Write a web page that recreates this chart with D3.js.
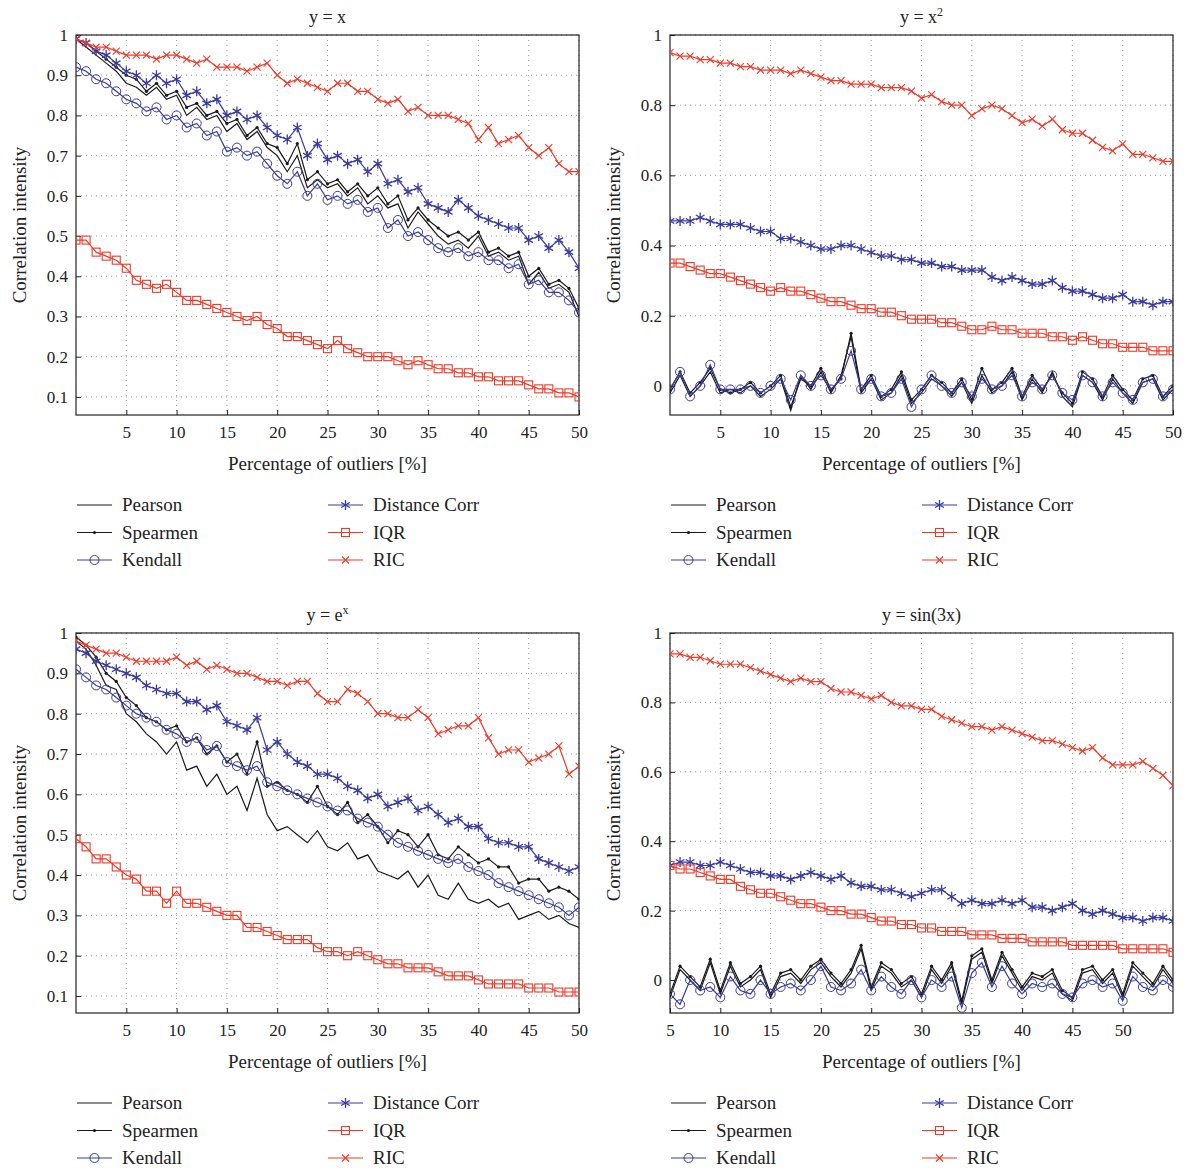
<!DOCTYPE html>
<html><head><meta charset="utf-8">
<script src="https://cdn.jsdelivr.net/npm/d3@7"></script>
<style>body{margin:0;background:#fff}text{font-family:"Liberation Serif",serif;fill:#222}</style>
</head><body><svg width="1188" height="1168"></svg>
<script>
// panel 1: y = x   (x = 0..50)
const xA = d3.range(0, 51);
const p1Pearson = [0.99,0.97,0.95,0.93,0.91,0.88,0.87,0.85,0.87,0.84,0.85,0.80,0.82,0.79,0.80,0.76,0.78,0.74,0.76,0.72,0.70,0.66,0.70,0.62,0.64,0.62,0.63,0.60,0.62,0.58,0.60,0.57,0.58,0.52,0.56,0.53,0.50,0.48,0.49,0.47,0.50,0.45,0.46,0.44,0.45,0.38,0.41,0.37,0.38,0.36,0.30];
const p1Spearman = [0.99,0.98,0.96,0.94,0.92,0.90,0.89,0.86,0.88,0.85,0.86,0.82,0.83,0.80,0.81,0.78,0.79,0.75,0.77,0.73,0.72,0.68,0.73,0.64,0.66,0.63,0.64,0.61,0.63,0.60,0.62,0.58,0.60,0.54,0.57,0.54,0.52,0.50,0.51,0.49,0.51,0.46,0.47,0.45,0.46,0.40,0.42,0.38,0.39,0.37,0.32];
const p1Kendall = [0.92,0.91,0.89,0.88,0.86,0.84,0.83,0.81,0.82,0.79,0.80,0.77,0.78,0.75,0.76,0.71,0.72,0.70,0.71,0.68,0.65,0.63,0.66,0.60,0.63,0.59,0.60,0.58,0.59,0.56,0.57,0.52,0.54,0.50,0.51,0.49,0.47,0.46,0.47,0.45,0.46,0.44,0.44,0.42,0.43,0.38,0.39,0.36,0.36,0.34,0.31];
const p1Dcor = [0.99,0.98,0.96,0.95,0.93,0.91,0.90,0.88,0.90,0.88,0.89,0.85,0.86,0.83,0.84,0.80,0.81,0.79,0.80,0.77,0.75,0.74,0.77,0.70,0.73,0.69,0.70,0.68,0.69,0.66,0.68,0.63,0.64,0.61,0.62,0.58,0.57,0.56,0.59,0.57,0.55,0.54,0.53,0.52,0.52,0.49,0.50,0.47,0.49,0.46,0.42];
const p1Iqr = [0.49,0.49,0.46,0.45,0.44,0.42,0.39,0.38,0.37,0.38,0.36,0.34,0.34,0.33,0.32,0.31,0.30,0.29,0.30,0.28,0.27,0.25,0.25,0.24,0.23,0.22,0.24,0.22,0.21,0.20,0.20,0.20,0.19,0.18,0.19,0.18,0.17,0.17,0.16,0.16,0.15,0.15,0.14,0.14,0.14,0.13,0.12,0.12,0.11,0.11,0.10];
const p1Ric = [0.99,0.98,0.97,0.97,0.96,0.95,0.95,0.95,0.94,0.95,0.95,0.94,0.93,0.94,0.92,0.92,0.92,0.91,0.92,0.93,0.90,0.88,0.89,0.88,0.87,0.86,0.88,0.88,0.86,0.86,0.84,0.83,0.84,0.81,0.82,0.80,0.80,0.80,0.79,0.78,0.74,0.77,0.73,0.74,0.75,0.72,0.70,0.72,0.68,0.66,0.66];

// panel 2: y = x^2
const p2Pearson = [-0.02,0.03,-0.03,0.00,0.04,-0.02,-0.01,-0.02,0.00,-0.03,-0.01,0.02,-0.07,0.03,-0.01,0.04,-0.02,0.03,0.14,-0.02,0.02,-0.04,-0.02,0.03,-0.05,-0.02,0.02,0.00,-0.03,0.01,-0.05,0.03,-0.02,0.00,0.04,-0.04,0.02,-0.02,0.04,-0.03,-0.06,0.03,0.01,-0.04,0.02,-0.02,-0.05,0.01,0.02,-0.04,-0.01];
const p2Spearman = [-0.01,0.04,-0.02,0.01,0.05,-0.01,-0.02,-0.01,0.01,-0.02,0.00,0.03,-0.06,0.02,0.00,0.05,-0.01,0.02,0.15,-0.01,0.03,-0.03,-0.01,0.04,-0.04,-0.01,0.03,0.01,-0.02,0.02,-0.04,0.05,-0.01,0.01,0.05,-0.03,0.03,-0.01,0.03,-0.02,-0.05,0.04,0.02,-0.03,0.03,-0.01,-0.04,0.02,0.03,-0.03,0.00];
const p2Kendall = [-0.01,0.04,-0.03,0.00,0.06,-0.01,-0.01,-0.01,0.00,-0.02,0.00,0.02,-0.04,0.03,0.00,0.03,-0.01,0.02,0.10,-0.01,0.02,-0.03,-0.02,0.02,-0.06,-0.01,0.03,0.00,-0.02,0.01,-0.03,0.02,-0.01,0.00,0.03,-0.03,0.01,-0.01,0.03,-0.02,-0.04,0.03,0.01,-0.03,0.01,-0.02,-0.04,0.01,0.02,-0.03,-0.01];
const p2Dcor = [0.47,0.47,0.47,0.48,0.47,0.46,0.46,0.46,0.45,0.44,0.44,0.42,0.42,0.41,0.40,0.39,0.39,0.40,0.40,0.39,0.38,0.37,0.37,0.36,0.36,0.35,0.35,0.34,0.34,0.33,0.33,0.33,0.31,0.30,0.31,0.30,0.29,0.29,0.30,0.28,0.27,0.27,0.26,0.25,0.25,0.26,0.24,0.24,0.23,0.24,0.24];
const p2Iqr = [0.35,0.35,0.34,0.33,0.32,0.32,0.31,0.30,0.29,0.28,0.27,0.28,0.27,0.27,0.26,0.25,0.24,0.24,0.23,0.22,0.22,0.21,0.21,0.20,0.19,0.19,0.19,0.18,0.18,0.17,0.16,0.16,0.17,0.16,0.16,0.15,0.15,0.15,0.14,0.14,0.13,0.14,0.13,0.12,0.12,0.11,0.11,0.11,0.10,0.10,0.10];
const p2Ric = [0.95,0.94,0.94,0.93,0.93,0.92,0.92,0.91,0.91,0.90,0.90,0.90,0.89,0.90,0.89,0.88,0.87,0.87,0.86,0.86,0.86,0.85,0.85,0.85,0.84,0.82,0.83,0.81,0.80,0.80,0.77,0.79,0.80,0.79,0.77,0.75,0.76,0.74,0.76,0.73,0.72,0.72,0.70,0.68,0.67,0.69,0.66,0.66,0.65,0.64,0.64];

// panel 3: y = e^x
const p3Pearson = [0.98,0.96,0.92,0.87,0.86,0.80,0.78,0.75,0.73,0.70,0.73,0.66,0.67,0.62,0.65,0.60,0.62,0.56,0.64,0.55,0.51,0.52,0.50,0.48,0.51,0.47,0.46,0.48,0.44,0.45,0.41,0.40,0.39,0.41,0.37,0.40,0.35,0.34,0.38,0.34,0.33,0.34,0.32,0.33,0.29,0.30,0.31,0.29,0.30,0.28,0.27];
const p3Spearman = [0.99,0.97,0.94,0.90,0.88,0.84,0.82,0.79,0.78,0.76,0.77,0.73,0.74,0.70,0.72,0.68,0.70,0.65,0.73,0.62,0.63,0.61,0.60,0.58,0.62,0.57,0.55,0.58,0.53,0.55,0.52,0.48,0.51,0.50,0.47,0.50,0.45,0.44,0.47,0.45,0.43,0.44,0.42,0.42,0.38,0.39,0.39,0.36,0.37,0.36,0.34];
const p3Kendall = [0.91,0.89,0.87,0.86,0.84,0.82,0.80,0.79,0.78,0.76,0.75,0.73,0.74,0.71,0.72,0.68,0.67,0.66,0.67,0.63,0.62,0.61,0.60,0.59,0.58,0.57,0.56,0.56,0.54,0.53,0.52,0.50,0.48,0.47,0.46,0.45,0.44,0.43,0.44,0.42,0.41,0.40,0.38,0.37,0.36,0.35,0.34,0.33,0.32,0.30,0.32];
const p3Dcor = [0.96,0.95,0.93,0.92,0.91,0.90,0.89,0.87,0.86,0.85,0.85,0.83,0.83,0.81,0.82,0.78,0.77,0.76,0.79,0.71,0.73,0.70,0.68,0.67,0.65,0.65,0.64,0.62,0.61,0.59,0.60,0.57,0.58,0.59,0.56,0.57,0.55,0.53,0.54,0.52,0.52,0.49,0.48,0.48,0.47,0.47,0.44,0.43,0.42,0.41,0.42];
const p3Iqr = [0.49,0.47,0.44,0.44,0.42,0.40,0.39,0.36,0.36,0.33,0.36,0.33,0.33,0.32,0.31,0.30,0.30,0.27,0.27,0.26,0.25,0.24,0.24,0.24,0.22,0.21,0.21,0.20,0.21,0.20,0.19,0.18,0.18,0.17,0.17,0.17,0.16,0.15,0.15,0.15,0.14,0.13,0.13,0.13,0.13,0.12,0.12,0.12,0.11,0.11,0.11];
const p3Ric = [0.98,0.97,0.96,0.95,0.95,0.94,0.93,0.93,0.93,0.93,0.94,0.92,0.93,0.91,0.92,0.91,0.90,0.90,0.89,0.88,0.88,0.87,0.88,0.88,0.85,0.83,0.83,0.86,0.85,0.83,0.80,0.80,0.79,0.79,0.81,0.79,0.75,0.76,0.77,0.77,0.79,0.74,0.70,0.71,0.71,0.68,0.69,0.70,0.72,0.65,0.67];

// panel 4: y = sin(3x)   (x = 5..55)
const xB = d3.range(5, 56);
const p4Pearson = [-0.05,0.03,0.00,-0.03,0.05,-0.04,0.04,-0.02,0.00,0.03,-0.05,0.01,0.02,-0.01,0.03,0.05,0.01,-0.02,0.02,0.09,-0.03,0.04,0.02,-0.02,0.00,-0.05,0.03,-0.01,0.04,-0.07,0.06,0.08,-0.01,0.07,0.02,-0.03,0.01,0.00,0.02,-0.04,-0.06,0.02,0.03,-0.01,0.02,-0.05,0.04,0.01,-0.02,0.03,-0.01];
const p4Spearman = [-0.04,0.04,0.01,-0.02,0.06,-0.03,0.05,-0.01,0.01,0.04,-0.04,0.02,0.03,0.00,0.04,0.06,0.02,-0.01,0.03,0.10,-0.02,0.05,0.03,-0.01,0.01,-0.04,0.04,0.00,0.05,-0.06,0.07,0.09,0.00,0.08,0.03,-0.02,0.02,0.01,0.03,-0.03,-0.05,0.03,0.04,0.00,0.03,-0.04,0.05,0.02,-0.01,0.04,0.00];
const p4Kendall = [-0.04,-0.07,0.00,-0.03,-0.02,-0.05,0.01,-0.03,-0.04,0.00,-0.04,-0.02,-0.01,-0.03,0.00,0.04,-0.02,-0.03,-0.01,0.03,-0.03,0.01,-0.02,-0.04,0.00,-0.05,0.00,-0.02,0.01,-0.08,0.02,0.05,-0.02,0.04,-0.01,-0.04,-0.01,-0.02,-0.01,-0.04,-0.05,-0.01,0.00,-0.02,-0.01,-0.06,0.01,-0.02,-0.03,0.00,-0.02];
const p4Dcor = [0.33,0.34,0.34,0.33,0.33,0.34,0.33,0.32,0.31,0.31,0.30,0.30,0.29,0.30,0.31,0.30,0.29,0.30,0.28,0.27,0.27,0.26,0.26,0.25,0.24,0.25,0.26,0.26,0.24,0.22,0.23,0.22,0.22,0.23,0.22,0.23,0.21,0.21,0.20,0.21,0.22,0.20,0.19,0.20,0.19,0.18,0.18,0.17,0.18,0.18,0.17];
const p4Iqr = [0.33,0.32,0.32,0.31,0.30,0.29,0.29,0.27,0.26,0.25,0.25,0.24,0.23,0.22,0.22,0.21,0.20,0.20,0.19,0.19,0.18,0.17,0.17,0.16,0.16,0.15,0.15,0.14,0.14,0.14,0.13,0.13,0.13,0.12,0.12,0.12,0.11,0.11,0.11,0.11,0.10,0.10,0.10,0.10,0.10,0.09,0.09,0.09,0.09,0.09,0.08];
const p4Ric = [0.94,0.94,0.93,0.93,0.92,0.91,0.91,0.91,0.90,0.89,0.88,0.87,0.86,0.87,0.86,0.86,0.84,0.83,0.83,0.82,0.81,0.82,0.80,0.79,0.79,0.78,0.78,0.76,0.75,0.74,0.73,0.73,0.72,0.73,0.72,0.71,0.70,0.69,0.69,0.68,0.67,0.66,0.67,0.64,0.62,0.62,0.62,0.63,0.61,0.59,0.56];

const seriesNames = ["Pearson", "Spearmen", "Kendall", "Distance Corr", "IQR", "RIC"];
const xTicks = [5, 10, 15, 20, 25, 30, 35, 40, 45, 50];
const yTicksA = [0.1, 0.2, 0.3, 0.4, 0.5, 0.6, 0.7, 0.8, 0.9, 1];
const yTicksB = [0, 0.2, 0.4, 0.6, 0.8, 1];

const black = "#1a1a1a", blue = "#3b3b9e", red = "#ec3b2a";
const styles = [
  { color: black, marker: "none" },
  { color: black, marker: "dot" },
  { color: blue, marker: "circle" },
  { color: blue, marker: "star" },
  { color: red, marker: "square" },
  { color: red, marker: "cross" }
];

const panels = [
  { title: ["y = x"], left: 76, top: 35, xs: xA, xDom: [0, 50], yDom: [0.055, 1], yTicks: yTicksA, data: [p1Pearson, p1Spearman, p1Kendall, p1Dcor, p1Iqr, p1Ric] },
  { title: ["y = x", "2"], left: 670, top: 35, xs: xA, xDom: [0, 50], yDom: [-0.083, 1], yTicks: yTicksB, data: [p2Pearson, p2Spearman, p2Kendall, p2Dcor, p2Iqr, p2Ric] },
  { title: ["y = e", "x"], left: 76, top: 633, xs: xA, xDom: [0, 50], yDom: [0.058, 1], yTicks: yTicksA, data: [p3Pearson, p3Spearman, p3Kendall, p3Dcor, p3Iqr, p3Ric] },
  { title: ["y = sin(3x)"], left: 670, top: 633, xs: xB, xDom: [5, 55], yDom: [-0.095, 1], yTicks: yTicksB, data: [p4Pearson, p4Spearman, p4Kendall, p4Dcor, p4Iqr, p4Ric] }
];
const pw = 503, ph = 380;

const drawMarker = (g, type, color) => {
  if (type === "dot") g.append("circle").attr("r", 1.6).style("fill", color);
  else if (type === "circle") g.append("circle").attr("r", 4.5).style("fill", "none").style("stroke", color).style("stroke-width", 1);
  else if (type === "square") g.append("rect").attr("x", -4).attr("y", -4).attr("width", 8).attr("height", 8).style("fill", "none").style("stroke", color).style("stroke-width", 1.1);
  else if (type === "cross") g.append("path").attr("d", "M-3.5,-3.5L3.5,3.5M-3.5,3.5L3.5,-3.5").style("stroke", color).style("stroke-width", 1.1);
  else if (type === "star") g.append("path").attr("d", "M0,-5V5M-4.3,-2.5L4.3,2.5M-4.3,2.5L4.3,-2.5").style("stroke", color).style("stroke-width", 1.3);
};

const svg = d3.select("svg");

panels.forEach(p => {
  const g = svg.append("g").attr("transform", `translate(${p.left},${p.top})`);
  const x = d3.scaleLinear().domain(p.xDom).range([0, pw]);
  const y = d3.scaleLinear().domain(p.yDom).range([ph, 0]);

  // grid
  g.append("g").selectAll("line").data(xTicks).join("line")
    .attr("x1", d => x(d)).attr("x2", d => x(d)).attr("y1", 0).attr("y2", ph)
    .attr("stroke", "#999").attr("stroke-dasharray", "1,4");
  g.append("g").selectAll("line").data(p.yTicks).join("line")
    .attr("y1", d => y(d)).attr("y2", d => y(d)).attr("x1", 0).attr("x2", pw)
    .attr("stroke", "#999").attr("stroke-dasharray", "1,4");

  const xAxis = g.append("g").attr("transform", `translate(0,${ph})`)
    .call(d3.axisBottom(x).tickValues(xTicks).tickSize(-5).tickPadding(11));
  const yAxis = g.append("g")
    .call(d3.axisLeft(y).tickValues(p.yTicks).tickSize(-5).tickPadding(8).tickFormat(d3.format("~g")));
  [xAxis, yAxis].forEach(a => {
    a.select(".domain").remove();
    a.selectAll("line").attr("stroke", "#222");
    a.selectAll("text").attr("font-size", 17).attr("font-family", "Liberation Serif, serif").attr("fill", "#222");
  });
  g.append("rect").attr("width", pw).attr("height", ph).attr("fill", "none").attr("stroke", "#222").attr("stroke-width", 1.2);

  const clip = "clip" + p.left + p.top;
  g.append("clipPath").attr("id", clip).append("rect").attr("width", pw).attr("height", ph);
  const plot = g.append("g").attr("clip-path", `url(#${clip})`);

  const line = d3.line().x(d => x(d[0])).y(d => y(d[1]));
  p.data.forEach((vals, i) => {
    const pts = vals.map((v, j) => [p.xs[j], v]);
    const s = styles[i];
    plot.append("path").datum(pts).attr("d", line).attr("fill", "none")
      .attr("stroke", s.color).attr("stroke-width", 1.2);
    if (s.marker !== "none") {
      plot.append("g").selectAll("g").data(pts).join("g")
        .attr("transform", d => `translate(${x(d[0])},${y(d[1])})`)
        .each(function () { drawMarker(d3.select(this), s.marker, s.color); });
    }
  });

  // title
  const t = g.append("text").attr("x", pw / 2).attr("y", -12).attr("text-anchor", "middle").attr("font-size", 18);
  t.append("tspan").text(p.title[0]);
  if (p.title[1]) t.append("tspan").attr("dy", -7).attr("font-size", 12).text(p.title[1]);

  g.append("text").attr("x", pw / 2).attr("y", ph + 55).attr("text-anchor", "middle").attr("font-size", 19)
    .text("Percentage of outliers [%]");
  g.append("text").attr("transform", `translate(-50,${ph / 2}) rotate(-90)`).attr("text-anchor", "middle").attr("font-size", 19)
    .text("Correlation intensity");

  // legend
  const lg = g.append("g").attr("transform", `translate(0,${ph + 90})`);
  seriesNames.forEach((name, i) => {
    const col = Math.floor(i / 3), row = i % 3;
    const item = lg.append("g").attr("transform", `translate(${col * 251},${row * 27.5})`);
    item.append("line").attr("x1", 1).attr("x2", 36).style("stroke", styles[i].color).style("stroke-width", 1.2);
    if (styles[i].marker !== "none") drawMarker(item.append("g").attr("transform", "translate(18.5,0)"), styles[i].marker, styles[i].color);
    item.append("text").attr("x", 46).attr("y", 6).attr("font-size", 19).text(name);
  });
});
</script></body></html>
